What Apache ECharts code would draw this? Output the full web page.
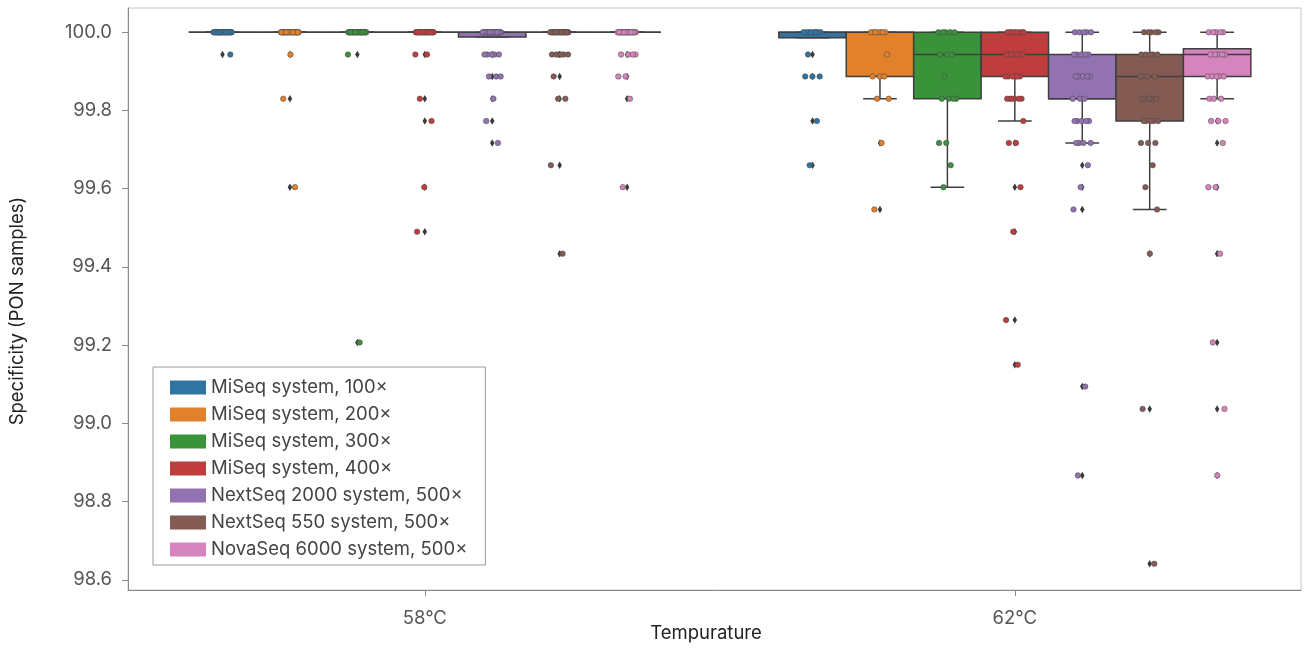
<!DOCTYPE html>
<html>
<head>
<meta charset="utf-8">
<script src="https://cdn.jsdelivr.net/npm/echarts@6/dist/echarts.min.js"></script>
<style>
html,body{margin:0;padding:0;background:#fff;}
#chart{width:1304px;height:648px;}
</style>
</head>
<body>
<div id="chart"></div>
<script>
// ---------------- data ----------------
const temps = ['58°C', '62°C'];
const systems = [
  'MiSeq system, 100×',
  'MiSeq system, 200×',
  'MiSeq system, 300×',
  'MiSeq system, 400×',
  'NextSeq 2000 system, 500×',
  'NextSeq 550 system, 500×',
  'NovaSeq 6000 system, 500×'
];
const yTicks = [98.6, 98.8, 99.0, 99.2, 99.4, 99.6, 99.8, 100.0];

// box stats: [lower whisker, Q1, median, Q3, upper whisker]
const box58 = [
  [100, 100, 100, 100, 100],
  [100, 100, 100, 100, 100],
  [100, 100, 100, 100, 100],
  [100, 100, 100, 100, 100],
  [99.988, 99.988, 100, 100, 100],
  [100, 100, 100, 100, 100],
  [100, 100, 100, 100, 100]
];
const box62 = [
  [99.986, 99.986, 100, 100, 100],
  [99.830, 99.887, 100, 100, 100],
  [99.604, 99.830, 99.943, 100, 100],
  [99.773, 99.887, 99.943, 100, 100],
  [99.717, 99.830, 99.830, 99.943, 100],
  [99.547, 99.773, 99.887, 99.943, 100],
  [99.830, 99.887, 99.943, 99.958, 100]
];

// outliers (fliers)
const fliers58 = [
  [99.943],
  [99.943, 99.830, 99.604],
  [99.943, 99.207],
  [99.943, 99.830, 99.773, 99.604, 99.490],
  [99.943, 99.887, 99.830, 99.773, 99.717],
  [99.943, 99.887, 99.830, 99.660, 99.434],
  [99.943, 99.887, 99.830, 99.604]
];
const fliers62 = [
  [99.943, 99.887, 99.773, 99.660],
  [99.717, 99.547],
  [],
  [99.717, 99.604, 99.490, 99.264, 99.150],
  [99.660, 99.604, 99.547, 99.094, 98.867],
  [99.434, 99.037, 98.641],
  [99.773, 99.717, 99.604, 99.434, 99.207, 99.037, 98.867]
];

// individual samples: [specificity, number of samples]
const samples58 = [
  [[100, 30], [99.943, 1]],
  [[100, 28], [99.943, 1], [99.830, 1], [99.604, 1]],
  [[100, 29], [99.943, 1], [99.207, 1]],
  [[100, 26], [99.943, 2], [99.830, 1], [99.773, 1], [99.604, 1], [99.490, 1]],
  [[100, 24], [99.943, 5], [99.887, 3], [99.830, 1], [99.773, 1], [99.717, 1]],
  [[100, 24], [99.943, 6], [99.887, 1], [99.830, 2], [99.660, 1], [99.434, 1]],
  [[100, 25], [99.943, 4], [99.887, 2], [99.830, 1], [99.604, 1]]
];
const samples62 = [
  [[100, 9], [99.943, 1], [99.887, 3], [99.773, 1], [99.660, 1]],
  [[100, 7], [99.943, 1], [99.887, 3], [99.830, 2], [99.717, 1], [99.547, 1]],
  [[100, 5], [99.943, 3], [99.887, 1], [99.830, 4], [99.717, 2], [99.660, 1], [99.604, 1]],
  [[100, 8], [99.943, 7], [99.887, 6], [99.830, 6], [99.773, 1], [99.717, 2], [99.604, 1], [99.490, 1], [99.264, 1], [99.150, 1]],
  [[100, 5], [99.943, 5], [99.887, 5], [99.830, 3], [99.773, 5], [99.717, 4], [99.660, 1], [99.604, 1], [99.547, 1], [99.094, 1], [98.867, 1]],
  [[100, 5], [99.943, 5], [99.887, 4], [99.830, 5], [99.773, 5], [99.717, 3], [99.660, 1], [99.604, 1], [99.547, 1], [99.434, 1], [99.037, 1], [98.641, 1]],
  [[100, 5], [99.943, 5], [99.887, 5], [99.830, 3], [99.773, 3], [99.717, 1], [99.604, 2], [99.434, 1], [99.207, 1], [99.037, 1], [98.867, 1]]
];

// ---------------- style / layout ----------------
const colors = ['#3274A1', '#E1812C', '#3A923A', '#C03D3E', '#9372B2', '#845B53', '#D684BD'];
const FONT = 'Inter, "Noto Sans", sans-serif';
const FS = 18.5;
const NS = systems.length;
const SUB = 0.8 / NS;        // dodge step
const JIT = 0.016;           // strip jitter half-range
const EDGE = '#3f3f3f';

const boxesBy = [box58, box62];
const fliersBy = [fliers58, fliers62];
const samplesBy = [samples58, samples62];

function offsetX(g, s) { return g + (s - (NS - 1) / 2) * SUB; }

function renderBox(params, api) {
  const g = api.value(0), lo = api.value(1), q1 = api.value(2), med = api.value(3),
        q3 = api.value(4), hi = api.value(5), s = api.value(6);
  const cx = offsetX(g, s);
  const hw = SUB / 2, cw = SUB / 4;
  const a = api.coord([cx - hw, q3]);
  const b = api.coord([cx + hw, q1]);
  const c = api.coord([cx, hi]);
  const d = api.coord([cx, lo]);
  const cq3 = api.coord([cx, q3]);
  const cq1 = api.coord([cx, q1]);
  const m1 = api.coord([cx - hw, med]);
  const m2 = api.coord([cx + hw, med]);
  const k1 = api.coord([cx - cw, hi]);
  const k2 = api.coord([cx + cw, hi]);
  const l1 = api.coord([cx - cw, lo]);
  const l2 = api.coord([cx + cw, lo]);
  const ls = { stroke: EDGE, lineWidth: 1.5 };
  return {
    type: 'group',
    children: [
      { type: 'line', shape: { x1: c[0], y1: c[1], x2: cq3[0], y2: cq3[1] }, style: ls },
      { type: 'line', shape: { x1: d[0], y1: d[1], x2: cq1[0], y2: cq1[1] }, style: ls },
      { type: 'line', shape: { x1: k1[0], y1: k1[1], x2: k2[0], y2: k2[1] }, style: ls },
      { type: 'line', shape: { x1: l1[0], y1: l1[1], x2: l2[0], y2: l2[1] }, style: ls },
      { type: 'rect', shape: { x: a[0], y: a[1], width: b[0] - a[0], height: b[1] - a[1] },
        style: { fill: colors[s], stroke: EDGE, lineWidth: 1.5 } },
      { type: 'line', shape: { x1: m1[0], y1: m1[1], x2: m2[0], y2: m2[1] }, style: ls }
    ]
  };
}

const series = [];
// boxes
systems.forEach((name, s) => {
  series.push({
    type: 'custom',
    name: name,
    renderItem: renderBox,
    encode: { x: 0, y: [1, 2, 3, 4, 5] },
    data: [0, 1].map(g => [g].concat(boxesBy[g][s]).concat([s])),
    z: 2,
    silent: true
  });
});
// fliers
systems.forEach((name, s) => {
  const data = [];
  [0, 1].forEach(g => fliersBy[g][s].forEach(v => data.push([offsetX(g, s), v])));
  series.push({
    type: 'scatter',
    name: name,
    data: data,
    symbol: 'diamond',
    symbolSize: [4.5, 7.5],
    itemStyle: { color: '#3a3a3a', opacity: 1 },
    z: 3,
    silent: true
  });
});
// strip points
systems.forEach((name, s) => {
  const data = [];
  [0, 1].forEach(g => {
    let j = 0;
    samplesBy[g][s].forEach(([v, n]) => {
      for (let i = 0; i < n; i++) {
        const u = ((0.37 + (j + s * 3 + g * 7) * 0.6180339) % 1) * 2 - 1;
        data.push([offsetX(g, s) + u * JIT, v]);
        j++;
      }
    });
  });
  series.push({
    type: 'scatter',
    name: name,
    data: data,
    symbol: 'circle',
    symbolSize: 5.5,
    itemStyle: { color: colors[s], borderColor: 'rgba(70,70,70,0.75)', borderWidth: 0.7, opacity: 1 },
    z: 4,
    silent: true
  });
});

const chart = echarts.init(document.getElementById('chart'), null, { renderer: 'canvas' });
chart.setOption({
  animation: false,
  backgroundColor: '#ffffff',
  textStyle: { fontFamily: FONT },
  grid: {
    left: 128, right: 3, top: 8, bottom: 58,
    outerBoundsMode: 'none',
    containLabel: false,
    show: true, borderColor: '#c4c4c4', borderWidth: 1, backgroundColor: 'transparent'
  },
  legend: {
    show: true,
    orient: 'vertical',
    left: 153, top: 367,
    padding: [11, 18, 6, 17],
    borderColor: '#9a9a9a', borderWidth: 1, borderRadius: 0,
    backgroundColor: '#ffffff',
    itemWidth: 36, itemHeight: 14, itemGap: 8,
    icon: 'rect',
    selectedMode: false,
    textStyle: { fontFamily: FONT, fontSize: FS, color: '#444', lineHeight: 16 },
    data: systems.map((n, s) => ({ name: n, icon: 'rect', itemStyle: { color: colors[s], borderWidth: 0 } }))
  },
  xAxis: {
    type: 'value',
    min: -0.503, max: 1.485,
    splitLine: { show: false },
    axisLine: { show: true, onZero: false, lineStyle: { color: '#8a8a8a', width: 1 } },
    axisTick: { show: true, length: 6, customValues: [0, 1], lineStyle: { color: '#8a8a8a' } },
    axisLabel: {
      customValues: [0, 1],
      formatter: v => temps[Math.round(v)],
      fontFamily: FONT, fontSize: FS, color: '#555', margin: 19
    },
    name: 'Tempurature',
    nameLocation: 'middle',
    nameGap: 34,
    nameMoveOverlap: false,
    nameTextStyle: { fontFamily: FONT, fontSize: FS, color: '#222', padding: [0, 17, 0, 0] }
  },
  yAxis: {
    type: 'value',
    min: 98.574, max: 100.062,
    splitLine: { show: false },
    axisLine: { show: true, onZero: false, lineStyle: { color: '#8a8a8a', width: 1 } },
    axisTick: { show: true, length: 6, customValues: yTicks, lineStyle: { color: '#8a8a8a' } },
    axisLabel: {
      customValues: yTicks,
      formatter: v => v.toFixed(1),
      fontFamily: FONT, fontSize: FS, color: '#555', margin: 16
    },
    name: 'Specificity (PON samples)',
    nameLocation: 'middle',
    nameGap: 101,
    nameMoveOverlap: false,
    nameTextStyle: { fontFamily: FONT, fontSize: FS, color: '#222', padding: [0, 24, 0, 0] }
  },
  series: series
});
</script>
</body>
</html>
